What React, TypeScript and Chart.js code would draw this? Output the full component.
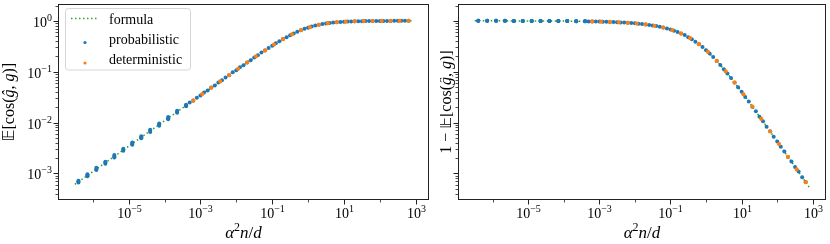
import React, { useEffect, useRef } from "react";
import { Chart, registerables } from "chart.js";

Chart.register(...registerables);

// ---------- data (x = alpha^2 n / d, E = E[cos(g_hat, g)]) ----------
const formulaX = [3.162e-7, 1e-6, 3.162e-6, 1e-5, 3.162e-5, 1e-4, 3.162e-4, 1e-3, 3.162e-3, 1e-2, 1.585e-2, 2.512e-2, 3.981e-2, 6.31e-2, 0.1, 0.1585, 0.2512, 0.3981, 0.631, 1, 1.585, 2.512, 3.981, 6.31, 10, 15.85, 25.12, 39.81, 63.1, 100, 158.5, 251.2, 398.1, 631.0, 794.3];
const formulaE = [6.099e-4, 1.0847e-3, 1.929e-3, 3.43e-3, 6.099e-3, 0.010846, 0.019285, 0.03428, 0.06088, 0.10783, 0.13529, 0.16942, 0.21152, 0.26287, 0.32444, 0.39643, 0.47761, 0.56477, 0.65272, 0.73521, 0.80679, 0.86439, 0.90777, 0.93877, 0.96003, 0.97421, 0.9835, 0.98949, 0.99333, 0.99578, 0.99733, 0.99831, 0.99893, 0.99933, 0.99947];

const probClusterX = [
  3.98e-7, 3.98e-7, 3.98e-7, 7.08e-7, 7.08e-7, 7.08e-7, 1.26e-6, 1.26e-6, 1.26e-6,
  2.24e-6, 2.24e-6, 2.24e-6, 3.98e-6, 3.98e-6, 3.98e-6, 7.08e-6, 7.08e-6, 7.08e-6,
  1.26e-5, 1.26e-5, 1.26e-5, 2.24e-5, 2.24e-5, 2.24e-5, 3.98e-5, 3.98e-5, 3.98e-5,
  7.08e-5, 7.08e-5, 7.08e-5, 1.26e-4, 1.26e-4, 1.26e-4, 2.24e-4, 2.24e-4, 2.24e-4,
  3.98e-4, 3.98e-4, 3.98e-4,
];
const probClusterE = [
  6.6e-4, 6.9e-4, 7.2e-4, 8.8e-4, 9.2e-4, 9.6e-4, 1.17e-3, 1.22e-3, 1.29e-3,
  1.55e-3, 1.63e-3, 1.7e-3, 2.06e-3, 2.17e-3, 2.3e-3, 2.78e-3, 2.9e-3, 3.05e-3,
  3.65e-3, 3.86e-3, 4.05e-3, 4.9e-3, 5.15e-3, 5.4e-3, 6.55e-3, 6.85e-3, 7.25e-3,
  8.7e-3, 9.15e-3, 9.6e-3, 1.16e-2, 1.22e-2, 1.28e-2, 1.56e-2, 1.63e-2, 1.7e-2,
  2.09e-2, 2.17e-2, 2.24e-2,
];
const probDenseX = [
  5.012e-4, 6.31e-4, 7.943e-4, 1e-3, 1.259e-3, 1.585e-3, 1.995e-3, 2.512e-3, 3.162e-3, 3.981e-3,
  5.012e-3, 6.31e-3, 7.943e-3, 1e-2, 1.259e-2, 1.585e-2, 1.995e-2, 2.512e-2, 3.162e-2, 3.981e-2,
  5.012e-2, 6.31e-2, 7.943e-2, 0.1, 0.1259, 0.1585, 0.1995, 0.2512, 0.3162, 0.3981,
  0.5012, 0.631, 0.7943, 1.0, 1.259, 1.585, 1.995, 2.512, 3.162, 3.981,
  5.012, 6.31, 7.943, 10.0, 12.59, 15.85, 19.95, 25.12, 31.62, 39.81,
  50.12, 63.1, 79.43, 100.0, 125.9, 158.5, 199.5, 251.2, 316.2, 398.1,
  501.2, 631.0,
];
const probDenseE = [
  0.0248, 0.0268, 0.0309, 0.034, 0.039, 0.0428, 0.049, 0.0538, 0.0615, 0.0676,
  0.0772, 0.0851, 0.097, 0.107, 0.1217, 0.1343, 0.1524, 0.1684, 0.1904, 0.2104,
  0.2372, 0.2617, 0.2937, 0.3232, 0.3605, 0.395, 0.4374, 0.4762, 0.5219, 0.5635,
  0.61, 0.6517, 0.6958, 0.7345, 0.7732, 0.8062, 0.8378, 0.8641, 0.888, 0.9076,
  0.9249, 0.9385, 0.9507, 0.9597, 0.9681, 0.974, 0.97955, 0.9833, 0.98695, 0.98935,
  0.9917, 0.99325, 0.99473, 0.99574, 0.99667, 0.9973, 0.9979, 0.99829, 0.99867, 0.99891,
  0.99916, 0.99932,
];

const detX = [6.31e-4, 1.122e-3, 1.995e-3, 3.548e-3, 6.31e-3, 1.122e-2, 1.995e-2, 3.548e-2, 6.31e-2, 0.1122, 0.1995, 0.3548, 0.631, 1.122, 1.995, 3.548, 6.31, 11.22, 19.95, 35.48, 63.1, 112.2, 199.5, 354.8, 631.0];
const detE = [0.02725, 0.03631, 0.04839, 0.06448, 0.08584, 0.11414, 0.15145, 0.20018, 0.26287, 0.34148, 0.43602, 0.54268, 0.65272, 0.7543, 0.83741, 0.89819, 0.93877, 0.96415, 0.97936, 0.98823, 0.99333, 0.99623, 0.99788, 0.9988, 0.99933];

// axis limits and tick labels
const X_MIN = 1.0715e-7;
const X_MAX = 2344;
const Y_MIN = 3.373e-4;
const Y_MAX = 2.143;
const xMajorTicks = [1e-5, 1e-3, 1e-1, 1e1, 1e3];
const xMajorExps = ["\u22125", "\u22123", "\u22121", "1", "3"];
const xMinorTicks = [1e-6, 1e-4, 1e-2, 1e0, 1e2];
const yMajorTicks = [1e-3, 1e-2, 1e-1, 1e0];
const yMajorExps = ["\u22123", "\u22122", "\u22121", "0"];

const legendLabels = ["formula", "probabilistic", "deterministic"];

const BLUE = "#1f77b4";
const ORANGE = "#ff7f0e";
const GREEN = "#2ca02c";
const SPINE = "#222222";
const SERIF = '"Liberation Serif", "DejaVu Serif", serif';

type Seg = { t: string; f: string; dy?: number };

function segsWidth(ctx: CanvasRenderingContext2D, segs: Seg[]) {
  let w = 0;
  for (const s of segs) {
    ctx.font = s.f;
    w += ctx.measureText(s.t).width;
  }
  return w;
}
function drawSegs(ctx: CanvasRenderingContext2D, segs: Seg[], x: number, y: number) {
  let cx = x;
  for (const s of segs) {
    ctx.font = s.f;
    ctx.fillText(s.t, cx, y + (s.dy || 0));
    cx += ctx.measureText(s.t).width;
  }
}

const tickFont = `14px ${SERIF}`;
const supFont = `10px ${SERIF}`;
const titleR = `16px ${SERIF}`;
const titleI = `italic 16px ${SERIF}`;

function yTitleSegs(side: string): Seg[] {
  const segs: Seg[] = [];
  if (side === "right") segs.push({ t: "1 \u2212 ", f: titleR });
  segs.push({ t: "\u{1D53C}", f: `16px "DejaVu Sans", "DejaVu Serif", sans-serif` });
  segs.push({ t: "[cos(", f: titleR });
  segs.push({ t: "\u011D", f: titleI });
  segs.push({ t: ", ", f: titleR });
  segs.push({ t: "g", f: titleI });
  segs.push({ t: ")]", f: titleR });
  return segs;
}

const mplAxes = {
  id: "mplAxes",
  afterDraw(chart: any, _args: any, opts: any) {
    const ctx: CanvasRenderingContext2D = chart.ctx;
    const side = opts.side;
    const xs = chart.scales.x;
    const ys = chart.scales.y;
    const { left, right, top, bottom } = chart.chartArea;
    ctx.save();
    ctx.fillStyle = "#000";
    ctx.strokeStyle = SPINE;
    ctx.textBaseline = "alphabetic";
    ctx.textAlign = "left";

    // x ticks
    ctx.lineWidth = 1;
    xMajorTicks.forEach((v, i) => {
      const px = Math.round(xs.getPixelForValue(v)) + 0.5;
      ctx.beginPath();
      ctx.moveTo(px, bottom);
      ctx.lineTo(px, bottom + 4.5);
      ctx.stroke();
      const segs: Seg[] = [
        { t: "10", f: tickFont },
        { t: xMajorExps[i], f: supFont, dy: -6 },
      ];
      const w = segsWidth(ctx, segs);
      drawSegs(ctx, segs, px - w / 2, bottom + 18);
    });
    ctx.lineWidth = 0.8;
    xMinorTicks.forEach((v) => {
      const px = Math.round(xs.getPixelForValue(v)) + 0.5;
      ctx.beginPath();
      ctx.moveTo(px, bottom);
      ctx.lineTo(px, bottom + 2.5);
      ctx.stroke();
    });

    // y ticks
    ctx.lineWidth = 1;
    yMajorTicks.forEach((v, i) => {
      const py = Math.round(ys.getPixelForValue(v)) + 0.5;
      ctx.beginPath();
      ctx.moveTo(left, py);
      ctx.lineTo(left - 4.5, py);
      ctx.stroke();
      if (side === "left") {
        const segs: Seg[] = [
          { t: "10", f: tickFont },
          { t: yMajorExps[i], f: supFont, dy: -6 },
        ];
        const w = segsWidth(ctx, segs);
        drawSegs(ctx, segs, left - 6 - w, py + 5);
      }
    });
    ctx.lineWidth = 0.8;
    for (let k = -4; k <= 0; k++) {
      for (let m = 2; m <= 9; m++) {
        const v = m * Math.pow(10, k);
        if (v < Y_MIN || v > Y_MAX) continue;
        const py = Math.round(ys.getPixelForValue(v)) + 0.5;
        ctx.beginPath();
        ctx.moveTo(left, py);
        ctx.lineTo(left - 2.5, py);
        ctx.stroke();
      }
    }

    // frame
    ctx.lineWidth = 1;
    ctx.strokeStyle = SPINE;
    ctx.strokeRect(left + 0.5, top + 0.5, right - left - 1, bottom - top - 1);

    // x title
    const xt: Seg[] = [
      { t: "\u03B1", f: `italic 17px ${SERIF}` },
      { t: "2", f: `12px ${SERIF}`, dy: -7 },
      { t: "n", f: `italic 17px ${SERIF}` },
      { t: "/", f: `17px ${SERIF}` },
      { t: "d", f: `italic 17px ${SERIF}` },
    ];
    const xw = segsWidth(ctx, xt);
    drawSegs(ctx, xt, (left + right) / 2 - xw / 2, 238);

    // y title
    const yt = yTitleSegs(side);
    const yw = segsWidth(ctx, yt);
    ctx.save();
    ctx.translate(side === "left" ? 14 : 11, (top + bottom) / 2);
    ctx.rotate(-Math.PI / 2);
    drawSegs(ctx, yt, -yw / 2, 0);
    ctx.restore();

    // legend
    if (side === "left") {
      const bx = 65.5, by = 8.5, bw = 125, bh = 61.5;
      ctx.beginPath();
      (ctx as any).roundRect(bx, by, bw, bh, 3);
      ctx.fillStyle = "rgba(255,255,255,0.8)";
      ctx.fill();
      ctx.strokeStyle = "#d6d6d6";
      ctx.lineWidth = 1;
      ctx.stroke();
      const ds = chart.data.datasets;
      ctx.strokeStyle = ds[0].borderColor;
      ctx.lineWidth = 1.5;
      ctx.setLineDash([1.5, 2.5]);
      ctx.beginPath();
      ctx.moveTo(71, 18.5);
      ctx.lineTo(98, 18.5);
      ctx.stroke();
      ctx.setLineDash([]);
      ctx.fillStyle = ds[1].backgroundColor;
      ctx.beginPath();
      ctx.arc(85, 42.5, 1.6, 0, Math.PI * 2);
      ctx.fill();
      ctx.fillStyle = ds[2].backgroundColor;
      ctx.beginPath();
      ctx.arc(85, 63, 1.6, 0, Math.PI * 2);
      ctx.fill();
      ctx.fillStyle = "#000";
      ctx.font = `14px ${SERIF}`;
      const baselines = [23.5, 43.8, 64.1];
      legendLabels.forEach((l, i) => ctx.fillText(l, 109, baselines[i]));
    }
    ctx.restore();
  },
};

function pts(xsArr: number[], eArr: number[], side: string) {
  return xsArr.map((x, i) => ({ x, y: side === "left" ? eArr[i] : 1 - eArr[i] }));
}

function makeConfig(side: string): any {
  const probX = [...probClusterX, ...probDenseX];
  const probE = [...probClusterE, ...probDenseE];
  return {
    type: "scatter",
    data: {
      datasets: [
        {
          label: legendLabels[0],
          data: pts(formulaX, formulaE, side),
          showLine: true,
          borderColor: GREEN,
          backgroundColor: GREEN,
          borderWidth: 1.5,
          borderDash: [1.5, 2.5],
          pointRadius: 0,
          fill: false,
          tension: 0,
          order: 3,
        },
        {
          label: legendLabels[1],
          data: pts(probX, probE, side),
          backgroundColor: BLUE,
          borderWidth: 0,
          pointRadius: 2.0,
          order: 2,
        },
        {
          label: legendLabels[2],
          data: pts(detX, detE, side),
          backgroundColor: ORANGE,
          borderWidth: 0,
          pointRadius: 2.1,
          order: 1,
        },
      ],
    },
    options: {
      responsive: false,
      animation: false,
      events: [],
      layout: {
        padding: side === "left"
          ? { left: 58, right: 11, top: 1, bottom: 44 }
          : { left: 18, right: 2, top: 1, bottom: 44 },
      },
      scales: {
        x: { type: "logarithmic", min: X_MIN, max: X_MAX, display: false },
        y: { type: "logarithmic", min: Y_MIN, max: Y_MAX, display: false },
      },
      plugins: {
        legend: { display: false },
        tooltip: { enabled: false },
        mplAxes: { side },
      },
    },
    plugins: [mplAxes],
  };
}

function Panel({ side, width }: { side: string; width: number }) {
  const ref = useRef<HTMLCanvasElement | null>(null);
  useEffect(() => {
    if (!ref.current) return;
    const chart = new Chart(ref.current, makeConfig(side));
    return () => chart.destroy();
  }, [side]);
  return <canvas ref={ref} width={width} height={244} style={{ display: "block", width, height: 244 }} />;
}

export default function App() {
  return (
    <div style={{ position: "absolute", left: 0, top: 0, width: 830, height: 244, background: "#fff", display: "flex" }}>
      <Panel side="left" width={440} />
      <Panel side="right" width={390} />
    </div>
  );
}
